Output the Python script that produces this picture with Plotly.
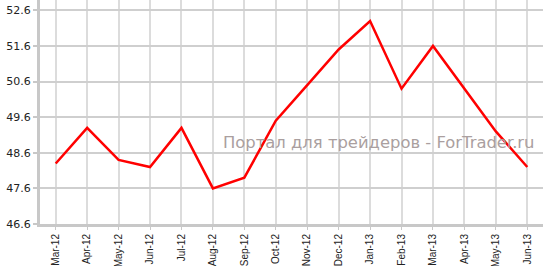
import plotly.graph_objects as go

months = ["Mar-12", "Apr-12", "May-12", "Jun-12", "Jul-12", "Aug-12", "Sep-12", "Oct-12",
          "Nov-12", "Dec-12", "Jan-13", "Feb-13", "Mar-13", "Apr-13", "May-13", "Jun-13"]
values = [48.3, 49.3, 48.4, 48.2, 49.3, 47.6, 47.9, 49.5,
          50.5, 51.5, 52.3, 50.4, 51.6, 50.4, 49.2, 48.2]
y_ticks = [46.6, 47.6, 48.6, 49.6, 50.6, 51.6, 52.6]
y_tick_text = ["46.6", "47.6", "48.6", "49.6", "50.6", "51.6", "52.6"]
watermark = "Портал для трейдеров - ForTrader.ru"

fig = go.Figure()
fig.add_trace(go.Scatter(
    x=months, y=values, mode="lines",
    line=dict(color="#ff0000", width=2.5),
    showlegend=False, hoverinfo="skip",
))

fig.update_layout(
    width=543, height=266,
    margin=dict(l=40, r=0, t=0, b=42),
    paper_bgcolor="white", plot_bgcolor="white",
    showlegend=False,
    xaxis=dict(
        type="category", range=[-0.5, len(months) - 0.5],
        showgrid=True, gridcolor="#dcdcdc", gridwidth=1.5,
        showline=True, linecolor="#c8c8c8", linewidth=3,
        ticks="outside", ticklen=3, tickcolor="#c8c8c8", tickwidth=1,
        tickangle=-90,
        tickfont=dict(family="Liberation Sans, Arial, sans-serif", size=10, color="#222222"),
        zeroline=False,
    ),
    yaxis=dict(
        range=[46.6, 52.89],
        tickmode="array", tickvals=y_ticks, ticktext=y_tick_text,
        showgrid=True, gridcolor="#cfcfcf", gridwidth=1.5,
        showline=True, linecolor="#c8c8c8", linewidth=3,
        ticks="outside", ticklen=4, tickcolor="#c8c8c8", tickwidth=1.5,
        tickfont=dict(family="DejaVu Sans, Verdana, sans-serif", size=11, color="#222222"),
        zeroline=False,
    ),
    annotations=[dict(
        text=watermark, xref="paper", yref="paper",
        x=0.988, y=0.362, xanchor="right", yanchor="middle",
        showarrow=False,
        font=dict(family="DejaVu Sans, Verdana, sans-serif", size=16.4, color="#aa9f9f"),
    )],
)

fig.write_html("out.html")
